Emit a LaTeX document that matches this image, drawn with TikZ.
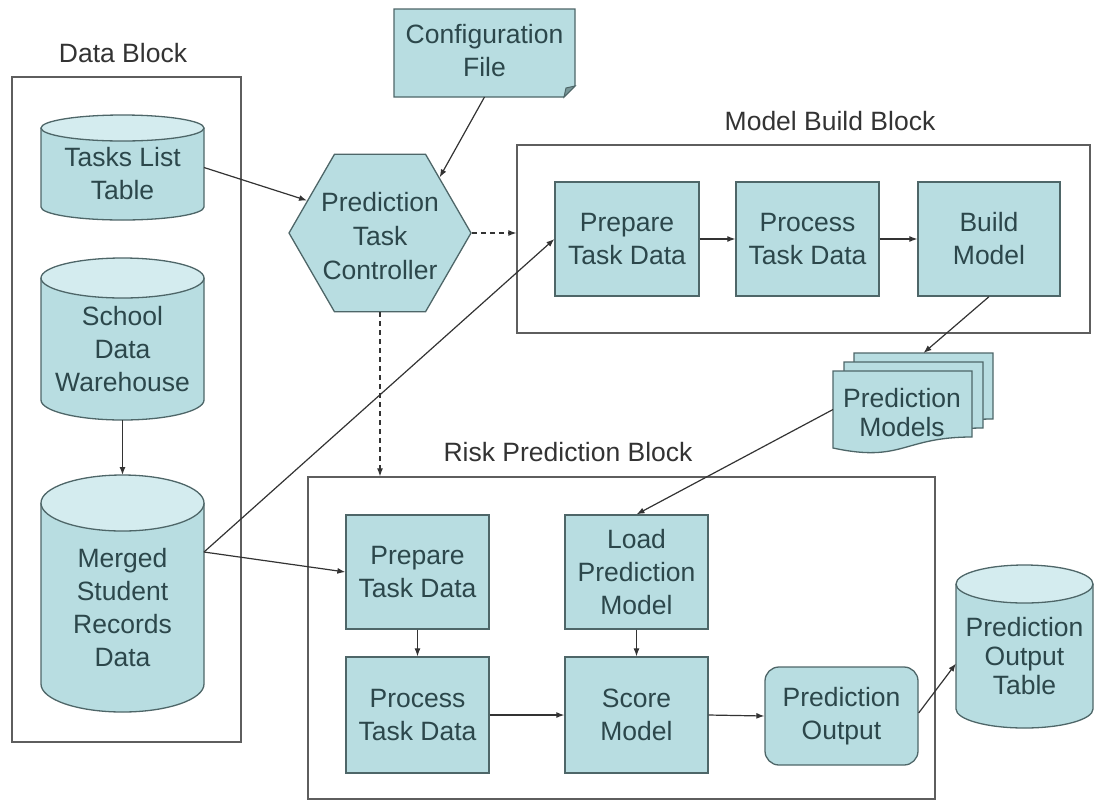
\documentclass[tikz,border=0pt]{standalone}
\usepackage{fontspec}
\setmainfont{Liberation Sans}
\usetikzlibrary{shapes.geometric,arrows.meta,calc}

\definecolor{shapefill}{HTML}{B8DDE1}
\definecolor{drumtop}{HTML}{D4ECEF}
\definecolor{shapeline}{HTML}{4E6668}
\definecolor{shapetext}{HTML}{2C474B}
\definecolor{framec}{HTML}{5E5E5E}
\definecolor{wirec}{HTML}{333333}

\newcommand\shapefont{\fontsize{26.5}{33}\selectfont}
\newcommand\tightfont{\fontsize{26.5}{29}\selectfont}

\tikzset{
  proc/.style={draw=shapeline, fill=shapefill, line width=1.3pt, text=shapetext,
    align=center, inner sep=0pt, font=\shapefont},
  lbl/.style={text=shapetext, align=center, inner sep=0pt, font=\shapefont},
  anchorbox/.style={inner sep=0pt, outer sep=0pt},
  frame/.style={draw=framec, line width=1.3pt, inner sep=0pt},
  blocklbl/.style={text=black!80, inner sep=0pt, font=\shapefont},
  wire/.style={draw=wirec, line width=1.2pt, -{Latex[length=8pt,width=6pt]}},
  ctrl/.style={wire, dash pattern=on 5pt off 4pt},
}

% database drum: [text options], name, centre x, half width, top, bottom, cap radius, text
\newcommand\dbdrum[8][]{%
  \fill[shapefill] (#3-#4,#5+#7) -- (#3-#4,#6-#7)
    arc[start angle=180,end angle=360,x radius=#4pt,y radius=#7pt]
    -- (#3+#4,#5+#7) -- cycle;
  \draw[shapeline, line width=1.3pt] (#3-#4,#5+#7) -- (#3-#4,#6-#7)
    arc[start angle=180,end angle=360,x radius=#4pt,y radius=#7pt]
    -- (#3+#4,#5+#7);
  \filldraw[fill=drumtop, draw=shapeline, line width=1.3pt]
    (#3,#5+#7) ellipse[x radius=#4pt, y radius=#7pt];
  \node[anchorbox, minimum width={2*#4*1pt}, minimum height={(#6-#5)*1pt}]
    (#2) at (#3,{(#5+#6)/2}) {};
  \node[lbl, #1] (#2txt) at (#3,{(#5+#7+#6)/2}) {#8};
}

% one sheet of the stacked documents: name, left, top
\newcommand\docsheet[3]{%
  \filldraw[fill=shapefill, draw=shapeline, line width=1.3pt]
    (#2,#3) -- (#2+139,#3) -- (#2+139,#3+66)
    .. controls (#2+69.5,#3+66) and (#2+69.5,#3+92) .. (#2,#3+77) -- cycle;
  \node[anchorbox, minimum width=139pt, minimum height=77pt]
    (#1) at (#2+69.5,#3+38.5) {};
}

\begin{document}
\begin{tikzpicture}[x=1pt, y=-1pt]
\useasboundingbox (0,0) rectangle (1094,801);

% ---- block frames and their titles
\node[frame, minimum width=229pt, minimum height=665pt] (datablk) at (126.5,409.5) {};
\node[blocklbl] (datalbl) at (123,53) {Data Block};
\node[frame, minimum width=573pt, minimum height=188pt] (mbb) at (803.5,239) {};
\node[blocklbl] (mbblbl) at (830,121) {Model Build Block};
\node[frame, minimum width=627pt, minimum height=322pt] (rpb) at (621.5,638) {};
\node[blocklbl] (rpblbl) at (568,452) {Risk Prediction Block};

% ---- data stores
\dbdrum{tasks}{122.5}{81.5}{115}{220}{13}{Tasks List\\Table}
\dbdrum{school}{122.5}{81.5}{258}{420}{20}{School\\Data\\Warehouse}
\dbdrum{merged}{122.5}{81.5}{475}{712}{28}{Merged\\Student\\Records\\Data}
\dbdrum[font=\tightfont]{outtab}{1024.5}{68.5}{565}{728}{19}{Prediction\\Output\\Table}

% ---- configuration file with folded corner
\filldraw[fill=shapefill, draw=shapeline, line width=1.3pt]
  (394,9) -- (575,9) -- (575,86) -- (564,97) -- (394,97) -- cycle;
\filldraw[fill=shapeline!60!shapefill, draw=shapeline, line width=1pt]
  (564,97) -- (566,88) -- (575,86) -- cycle;
\node[anchorbox, minimum width=181pt, minimum height=88pt] (cfg) at (484.5,53) {};
\node[lbl] (cfgtxt) at (484.5,51) {Configuration\\File};

% ---- controller
\node[regular polygon, regular polygon sides=6, minimum size=182pt,
  draw=shapeline, fill=shapefill, line width=1.3pt, inner sep=0pt] (hex) at (380,233) {};
\node[lbl, font=\fontsize{26.5}{34}\selectfont] (hextxt) at (380,236) {Prediction\\Task\\Controller};

% ---- model build steps
\node[proc, minimum width=144pt, minimum height=114pt] (mprep) at (627,239) {Prepare\\Task Data};
\node[proc, minimum width=143pt, minimum height=114pt] (mproc) at (807.5,239) {Process\\Task Data};
\node[proc, minimum width=142pt, minimum height=114pt] (mbuild) at (989,239) {Build\\Model};

% ---- stacked prediction models
\docsheet{pmback}{854}{353}
\docsheet{pmmid}{844}{362}
\docsheet{pmfront}{833}{371}
\node[lbl, font=\tightfont] (pmtxt) at (902,413) {Prediction\\Models};

% ---- risk prediction steps
\node[proc, minimum width=143pt, minimum height=114pt] (rprep) at (417.5,572) {Prepare\\Task Data};
\node[proc, minimum width=143pt, minimum height=114pt] (rload) at (636.5,572) {Load\\Prediction\\Model};
\node[proc, minimum width=143pt, minimum height=116pt] (rproc) at (417.5,715) {Process\\Task Data};
\node[proc, minimum width=143pt, minimum height=116pt] (rscore) at (636.5,715) {Score\\Model};
\node[proc, rounded corners=14pt, minimum width=153pt, minimum height=98pt] (rout) at (841.5,716) {Prediction\\Output};

% ---- connectors
\draw[wire] (school.south) -- (merged.north);
\draw[wire] (tasks.east) -- (hex.156);
\draw[wire] (cfg.south) -- (hex.43);
\draw[ctrl] (hex.east) -- (hex.east -| mbb.west);
\draw[ctrl] (hex.south) -- (hex.south |- rpb.north);
\draw[wire] ([yshift=41.5pt]merged.east) -- (mprep.west);
\draw[wire] ([yshift=41.5pt]merged.east) -- (rprep.west);
\draw[wire] (mprep.east) -- (mproc.west);
\draw[wire] (mproc.east) -- (mbuild.west);
\draw[wire] (mbuild.south) -- (pmback.north);
\draw[wire] (pmfront.west) -- (rload.north);
\draw[wire] (rprep.south) -- (rproc.north);
\draw[wire] (rload.south) -- (rscore.north);
\draw[wire] (rproc.east) -- (rscore.west);
\draw[wire] (rscore.east) -- (rout.west);
\draw[wire] ([yshift=3pt]rout.east) -- ([yshift=-17pt]outtab.west);
\end{tikzpicture}
\end{document}
